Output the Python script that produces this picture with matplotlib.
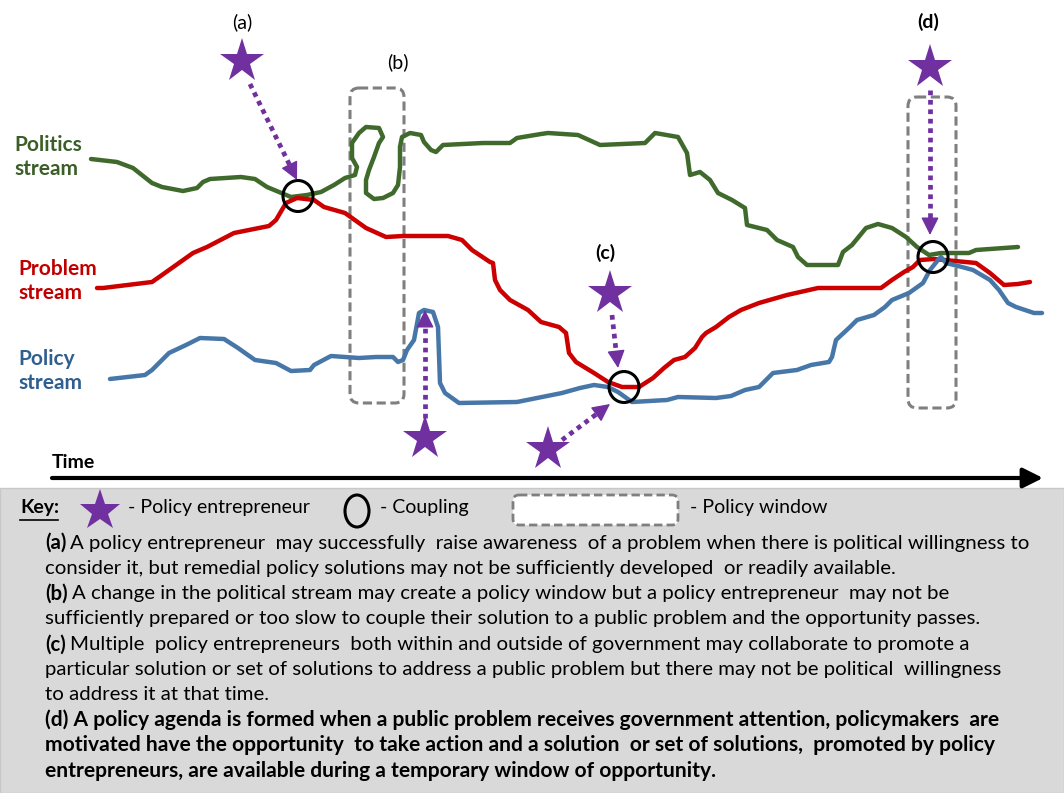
import matplotlib.pyplot as plt
from matplotlib.patches import Ellipse, FancyBboxPatch, Rectangle

plt.rcParams['font.family'] = ['Lato', 'DejaVu Sans']

# stream lines (x to the right, y downwards, in pixels)
politics_x = [91, 117, 133, 152, 162, 183, 197, 203, 210, 241, 255, 267, 279, 291, 307, 321, 334, 345, 355,
              357, 352, 352, 359, 366, 379, 383, 379, 374, 369, 366, 366, 374, 383, 393, 398, 400, 400, 402,
              410, 421, 424, 431, 436, 443, 483, 510, 517, 541, 548, 578, 600, 645, 655, 678, 687, 690, 700,
              710, 718, 732, 745, 747, 767, 777, 793, 798, 807, 838, 843, 852, 866, 878, 892, 906, 917, 929,
              941, 969, 976, 1018]
politics_y = [159, 162, 168, 183, 187, 191, 188, 182, 179, 177, 179, 187, 192, 197, 195, 192, 185, 178, 175,
              167, 158, 143, 133, 127, 128, 137, 143, 157, 170, 180, 193, 199, 198, 193, 185, 167, 147, 137,
              133, 135, 142, 150, 152, 145, 143, 143, 138, 134, 133, 135, 145, 143, 133, 137, 153, 175, 172,
              180, 193, 200, 208, 225, 230, 240, 247, 257, 265, 265, 252, 245, 228, 224, 228, 237, 247, 255,
              253, 253, 250, 247]

problem_x = [97, 103, 152, 162, 193, 207, 234, 269, 276, 286, 297, 314, 324, 345, 352, 366, 386, 403, 448,
             462, 472, 490, 493, 495, 500, 510, 528, 541, 559, 566, 569, 576, 594, 608, 622, 639, 653, 664,
             674, 685, 695, 702, 706, 716, 729, 741, 759, 787, 818, 881, 892, 904, 913, 920, 934, 976, 990,
             1004, 1018, 1030]
problem_y = [288, 288, 282, 275, 253, 247, 233, 226, 220, 203, 198, 200, 207, 213, 218, 228, 237, 236, 236,
             240, 250, 262, 263, 280, 290, 300, 310, 322, 327, 333, 353, 362, 373, 382, 387, 387, 378, 368,
             360, 357, 348, 337, 333, 327, 317, 310, 303, 295, 288, 288, 280, 272, 267, 260, 259, 263, 273,
             285, 284, 282]

policy_x = [110, 145, 152, 169, 186, 200, 224, 238, 255, 276, 291, 310, 314, 331, 359, 376, 393, 398, 403,
            407, 414, 419, 424, 433, 438, 440, 445, 459, 517, 562, 580, 594, 608, 618, 632, 667, 678, 716,
            731, 745, 759, 773, 797, 811, 829, 832, 836, 850, 857, 874, 885, 892, 909, 923, 930, 938, 941,
            946, 962, 973, 990, 999, 1008, 1016, 1034, 1042]
policy_y = [379, 375, 370, 353, 345, 338, 339, 348, 360, 363, 371, 370, 365, 356, 358, 357, 357, 362, 360,
            350, 340, 313, 310, 312, 327, 383, 393, 403, 402, 393, 388, 385, 387, 392, 402, 400, 397, 398,
            396, 390, 387, 373, 370, 365, 362, 357, 340, 327, 320, 315, 307, 300, 293, 283, 270, 260, 257,
            263, 267, 270, 280, 290, 303, 307, 313, 313]

# entrepreneurs (stars) and their arrows: star centre, arrow start, arrow tip
star_x = [242, 425, 610, 548, 930]
star_y = [61, 438, 293, 449, 67]
arrow_from = [(250, 84), (425, 418), (612, 315), (562, 440), (930, 90)]
arrow_to = [(297, 180), (425, 310), (618, 368), (610, 404), (930, 235)]

# couplings
coupling_x = [298, 624, 933]
coupling_y = [196, 387, 257]

# policy windows: left, top, right, bottom
windows = [(350, 88, 404, 403), (908, 97, 956, 408)]

point_labels = ['(a)', '(b)', '(c)', '(d)']
point_label_x = [242, 398, 605, 928]
point_label_y = [22, 62, 253, 22]
point_label_bold = [False, False, True, True]

stream_labels = ['Politics\nstream', 'Problem\nstream', 'Policy\nstream']
stream_label_x = [14, 18, 18]
stream_label_y = [157, 281, 371]

key_lines = [
    ('(a)', 'A policy entrepreneur  may successfully  raise awareness  of a problem when there is political willingness to'),
    ('', 'consider it, but remedial policy solutions may not be sufficiently developed  or readily available.'),
    ('(b)', 'A change in the political stream may create a policy window but a policy entrepreneur  may not be'),
    ('', 'sufficiently prepared or too slow to couple their solution to a public problem and the opportunity passes.'),
    ('(c)', 'Multiple  policy entrepreneurs  both within and outside of government may collaborate to promote a'),
    ('', 'particular solution or set of solutions to address a public problem but there may not be political  willingness'),
    ('', 'to address it at that time.'),
]
key_bold_lines = [
    '(d) A policy agenda is formed when a public problem receives government attention, policymakers  are',
    'motivated have the opportunity  to take action and a solution  or set of solutions,  promoted by policy',
    'entrepreneurs, are available during a temporary window of opportunity.',
]

green = '#3f6a2c'
red = '#cc0000'
blue = '#4677a8'
purple = '#7030a0'
grey = '#7f7f7f'

fig = plt.figure(figsize=(10.64, 7.93), dpi=100)
ax = fig.add_axes([0, 0, 1, 1])
ax.set_xlim(0, 1064)
ax.set_ylim(793, 0)
ax.axis('off')
renderer = fig.canvas.get_renderer()
inv = ax.transData.inverted()


def right_edge(t):
    bb = t.get_window_extent(renderer)
    return inv.transform((bb.x1, 0))[0]


# streams
for xs, ys, c in [(politics_x, politics_y, green), (problem_x, problem_y, red), (policy_x, policy_y, blue)]:
    ax.plot(xs, ys, color=c, lw=3.2, solid_capstyle='round', solid_joinstyle='round', zorder=3)

for s, x, y, c in zip(stream_labels, stream_label_x, stream_label_y, ['#3b5e28', '#c00000', '#2f5f8f']):
    ax.text(x, y, s, color=c, fontsize=15, fontweight='bold', va='center', linespacing=1.25)

# policy windows
for l, t, r, b in windows:
    ax.add_patch(FancyBboxPatch((l, t), r - l, b - t, boxstyle='round,pad=0,rounding_size=9',
                                fill=False, ec=grey, lw=2.2, ls=(0, (3, 1.5)), zorder=2))

# couplings
for cx, cy in zip(coupling_x, coupling_y):
    ax.add_patch(Ellipse((cx, cy), 30, 31, fill=False, ec='black', lw=2.2, zorder=5))

# entrepreneurs and arrows
ax.plot(star_x, star_y, ls='none', marker='*', ms=33, color=purple, mew=0, zorder=6)
for (x0, y0), (x1, y1) in zip(arrow_from, arrow_to):
    dx, dy = x1 - x0, y1 - y0
    n = (dx ** 2 + dy ** 2) ** 0.5
    hx, hy = x1 - dx / n * 14, y1 - dy / n * 14
    ax.plot([x0, hx], [y0, hy], color=purple, lw=3.4, ls=(0, (1, 1)), solid_capstyle='butt', zorder=6)
    ax.annotate('', xy=(x1, y1), xytext=(hx, hy),
                arrowprops=dict(arrowstyle='-|>,head_length=1.1,head_width=0.55', color=purple,
                                lw=1, mutation_scale=10, shrinkA=0, shrinkB=0), zorder=6)

for s, x, y, b in zip(point_labels, point_label_x, point_label_y, point_label_bold):
    ax.text(x, y, s, fontsize=14, fontweight='bold' if b else 'normal', ha='center', va='center')

# time axis
ax.text(52, 463, 'Time', fontsize=14, fontweight='bold', va='center')
ax.annotate('', xy=(1043, 478), xytext=(52, 478),
            arrowprops=dict(arrowstyle='-|>,head_length=1.2,head_width=0.6', color='black',
                            lw=3, mutation_scale=10, shrinkA=0, shrinkB=0))

# key panel
ax.add_patch(Rectangle((0, 488), 1064, 305, fc='#d9d9d9', ec='#c8c8c8', lw=1, zorder=0))
ax.text(20, 508, 'Key:', fontsize=14, fontweight='bold', va='center')
ax.plot([20, 58], [520, 520], color='black', lw=1.2)
ax.plot([100], [511], marker='*', ms=31, color=purple, mew=0)
ax.text(128, 508, '- Policy entrepreneur', fontsize=14, va='center')
ax.add_patch(Ellipse((357, 511), 24, 32, fill=False, ec='black', lw=2.2))
ax.text(380, 508, '- Coupling', fontsize=14, va='center')
ax.add_patch(FancyBboxPatch((513, 495), 165, 30, boxstyle='round,pad=0,rounding_size=6',
                            fc='white', ec=grey, lw=2, ls=(0, (3, 1.5))))
ax.text(690, 508, '- Policy window', fontsize=14, va='center')

# fit the key text sizes to the widths of the first regular and first bold line
probe = ax.text(45, 0, ' '.join(key_lines[0]), fontsize=10)
reg_size = 10 * (1030 - 45) / (right_edge(probe) - 45)
probe.remove()
probe = ax.text(45, 0, key_bold_lines[0], fontsize=10, fontweight='bold')
bold_size = 10 * (1000 - 45) / (right_edge(probe) - 45)
probe.remove()

line_y = 543
for prefix, rest in key_lines:
    x = 45
    if prefix:
        t = ax.text(x, line_y, prefix, fontsize=reg_size, fontweight='bold', va='center')
        x = right_edge(t) + 4
    ax.text(x, line_y, rest, fontsize=reg_size, va='center')
    line_y += 25.3
for s in key_bold_lines:
    ax.text(45, line_y, s, fontsize=bold_size, fontweight='bold', va='center')
    line_y += 25.3

fig.savefig('out.png', dpi=100)
